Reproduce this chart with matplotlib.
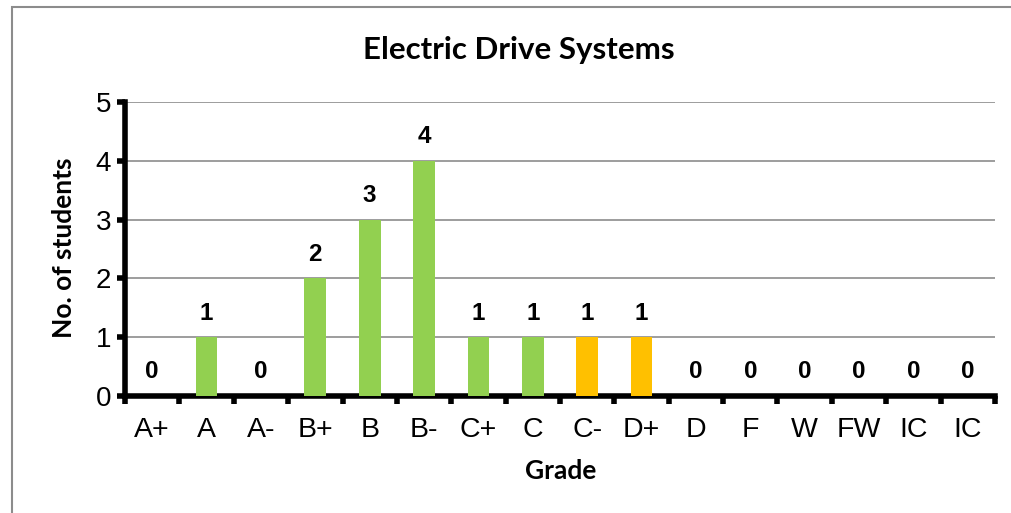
import matplotlib
matplotlib.use("Agg")
import matplotlib.pyplot as plt
from matplotlib.patches import Rectangle
import numpy as np

grades = ["A+", "A", "A-", "B+", "B", "B-", "C+", "C", "C-", "D+",
          "D", "F", "W", "FW", "IC", "IC"]
students = [0, 1, 0, 2, 3, 4, 1, 1, 1, 1, 0, 0, 0, 0, 0, 0]
bar_colors = ["#92D050"] * 8 + ["#FFC000"] * 2 + ["#92D050"] * 6

fig = plt.figure(figsize=(10.11, 5.13), dpi=100)
ax = fig.add_axes([125 / 1011, 1 - 396 / 513, (995 - 125) / 1011, (396 - 102) / 513])

x = np.arange(len(grades))
ax.bar(x, students, width=0.4, color=bar_colors, zorder=3)

# data labels
for xi, v in zip(x, students):
    ax.annotate(str(v), (xi, v), xytext=(0, 9), textcoords="offset points",
                ha="center", va="bottom", fontsize=17.5, fontweight="bold",
                family="Liberation Sans")

ax.set_xlim(-0.5, len(grades) - 0.5)
ax.set_ylim(0, 5)

# ticks at category boundaries, labels at centres
ax.set_xticks(np.arange(-0.5, len(grades), 1))
ax.set_xticklabels([])
ax.set_xticks(x, minor=True)
ax.set_xticklabels(grades, minor=True, fontsize=20.5, family="Liberation Sans")
ax.tick_params(axis="x", which="major", direction="out", length=6, width=4, color="black")
ax.tick_params(axis="x", which="minor", length=0, pad=15)
ax.set_yticks(range(0, 6))
ax.set_yticklabels([str(i) for i in range(6)], fontsize=20, family="Liberation Sans")
ax.tick_params(axis="y", direction="out", length=6, width=4, color="black", pad=4)

ax.yaxis.grid(True, color="#8c8c8c", linewidth=1.2, zorder=0)
ax.set_axisbelow(True)
for s in ["top", "right"]:
    ax.spines[s].set_visible(False)
for s in ["left", "bottom"]:
    ax.spines[s].set_linewidth(4)
    ax.spines[s].set_color("black")
    ax.spines[s].set_capstyle("projecting")

fig.text(519 / 1011, 1 - 50 / 513, "Electric Drive Systems", ha="center", va="center",
         fontsize=22.5, fontweight="bold", family="Lato")
fig.text(64 / 1011, 1 - 248 / 513, "No. of students", ha="center", va="center",
         rotation=90, fontsize=19, fontweight="bold", family="Lato")
fig.text(561 / 1011, 1 - 471 / 513, "Grade", ha="center", va="center",
         fontsize=19, fontweight="bold", family="Lato")

# chart frame
fig.patches.append(Rectangle((12 / 1011, -0.1), 1.1, 1 - 7.5 / 513 + 0.1,
                             transform=fig.transFigure, fill=False,
                             edgecolor="#8c8c8c", linewidth=1.5, figure=fig))

fig.savefig("out.png", dpi=100)
